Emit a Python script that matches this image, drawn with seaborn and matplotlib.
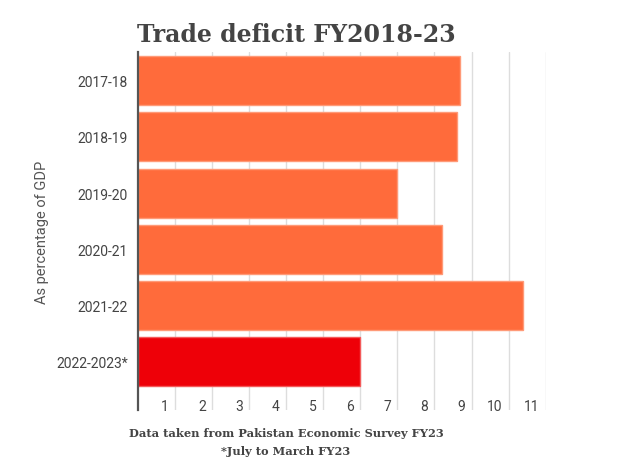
import matplotlib
matplotlib.use("Agg")
import matplotlib.pyplot as plt
import seaborn as sns
import pandas as pd

# values (trade deficit, % of GDP)
years = ["2017-18", "2018-19", "2019-20", "2020-21", "2021-22", "2022-2023*"]
deficit = [8.7, 8.6, 7.0, 8.2, 10.4, 6.0]
bar_colors = ["#ff6b3b", "#ff6b3b", "#ff6b3b", "#ff6b3b", "#ff6b3b", "#ee0008"]
edge_colors = ["#ff9a78", "#ff9a78", "#ff9a78", "#ff9a78", "#ff9a78", "#f45a5a"]
xticks = [1, 2, 3, 4, 5, 6, 7, 8, 9, 10, 11]

df = pd.DataFrame({"year": years, "deficit": deficit})

sns.set_style("white")
plt.rcParams["font.family"] = ["Roboto", "DejaVu Sans"]

fig = plt.figure(figsize=(6.26, 4.77), dpi=100)
ax = fig.add_axes([0.22, 0.1384, 0.6518, 0.7505])

sns.barplot(data=df, x="deficit", y="year", hue="year", palette=bar_colors,
            orient="h", width=0.87, saturation=1, legend=False, ax=ax)
for p, ec in zip(ax.patches, edge_colors):
    p.set_edgecolor(ec)
    p.set_linewidth(1)

ax.set_xlim(0, 11)
ax.set_ylim(5.86, -0.51)
ax.set_xticks(xticks)
ax.set_xticklabels([])
ax.tick_params(axis="x", length=0)
ax.tick_params(axis="y", length=0, pad=7, labelsize=10, labelcolor="#444444")
ax.grid(axis="x", color="#dddddd", linewidth=1)
ax.set_axisbelow(True)
for s in ["top", "right", "bottom"]:
    ax.spines[s].set_visible(False)
ax.spines["left"].set_color("#555555")
ax.spines["left"].set_linewidth(1.6)
ax.spines["left"].set_zorder(5)

# tick numbers sit inside the plot, just left of each gridline
from matplotlib.transforms import blended_transform_factory, ScaledTranslation
tr = blended_transform_factory(ax.transData, ax.transAxes) + \
    ScaledTranslation(-4.5 / 72, 0, fig.dpi_scale_trans)
for t in xticks:
    ax.text(t, 0.011, str(t), transform=tr, ha="right", va="center",
            fontsize=10, color="#444444")

ax.set_xlabel("")
ax.set_ylabel("As percentage of GDP", fontsize=10.5, color="#555555", labelpad=5)

fig.text(137 / 626, 1 - 42 / 477, "Trade deficit FY2018-23", fontsize=17,
         fontweight="bold", family="DejaVu Serif", color="#444444", va="baseline")
fig.text(286 / 626, 1 - 437 / 477, "Data taken from Pakistan Economic Survey FY23",
         fontsize=8.2, fontweight="bold", family="DejaVu Serif", color="#444444",
         ha="center", va="baseline")
fig.text(286 / 626, 1 - 455 / 477, "*July to March FY23",
         fontsize=8.2, fontweight="bold", family="DejaVu Serif", color="#444444",
         ha="center", va="baseline")

fig.savefig("out.png", dpi=100)
